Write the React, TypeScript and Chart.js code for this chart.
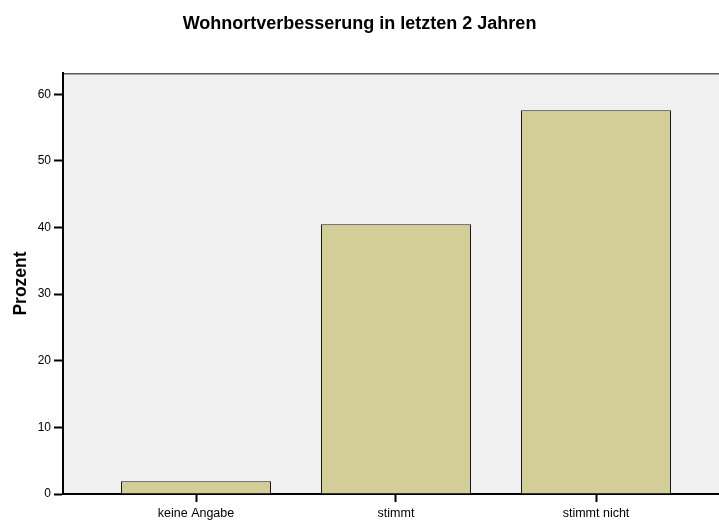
import React, { useEffect, useRef } from "react";
import { Chart, registerables } from "chart.js";

Chart.register(...registerables);

const title = "Wohnortverbesserung in letzten 2 Jahren";
const yAxisTitle = "Prozent";
const categories = ["keine Angabe", "stimmt", "stimmt nicht"];
const percentValues = [1.9, 40.5, 57.6];
const yTickStep = 10;
const yMax = 63.2;
const xMin = -0.665;
const xMax = 2.615;

const FONT = "'Liberation Sans', Arial, Helvetica, sans-serif";

const plotBackground = {
  id: "plotBackground",
  beforeDraw(chart: any) {
    const { ctx, chartArea } = chart;
    if (!chartArea) return;
    ctx.save();
    ctx.fillStyle = "#f0f0f0";
    ctx.fillRect(chartArea.left, chartArea.top, chartArea.right - chartArea.left, chartArea.bottom - chartArea.top);
    ctx.strokeStyle = "#5a5a5a";
    ctx.lineWidth = 1.5;
    ctx.beginPath();
    ctx.moveTo(chartArea.left, chartArea.top + 0.75);
    ctx.lineTo(chartArea.right, chartArea.top + 0.75);
    ctx.stroke();
    ctx.restore();
  },
};

export default function App() {
  const canvasRef = useRef<HTMLCanvasElement | null>(null);

  useEffect(() => {
    document.body.style.margin = "0";
    const canvas = canvasRef.current;
    if (!canvas) return;
    const chart = new Chart(canvas, {
      type: "bar",
      data: {
        datasets: [
          {
            data: categories.map((_, i) => ({ x: i, y: percentValues[i] })),
            backgroundColor: "#d3ce98",
            borderColor: "#1a1a1a",
            borderWidth: 1,
            categoryPercentage: 1,
            barPercentage: 0.75,
          },
        ],
      },
      plugins: [plotBackground],
      options: {
        responsive: false,
        animation: false,
        devicePixelRatio: 1,
        layout: { padding: 0 },
        plugins: {
          legend: { display: false },
          tooltip: { enabled: false },
          title: {
            display: true,
            text: title,
            color: "#000",
            font: { family: FONT, size: 18, weight: "bold" },
            padding: { top: 13, bottom: 38.4 },
          },
        },
        scales: {
          x: {
            type: "linear",
            min: xMin,
            max: xMax,
            offset: false,
            afterFit(scale: any) {
              scale.height = 27;
            },
            border: { display: true, color: "#000", width: 2 },
            grid: {
              display: true,
              offset: false,
              drawOnChartArea: false,
              drawTicks: true,
              tickLength: 8,
              tickColor: "#000",
              tickWidth: 2,
            },
            ticks: {
              stepSize: 1,
              includeBounds: false,
              autoSkip: false,
              maxRotation: 0,
              padding: 4,
              color: "#000",
              font: { family: FONT, size: 12.5 },
              callback: (v: any) => {
                const i = Number(v);
                return Number.isInteger(i) && categories[i] !== undefined ? categories[i] : "";
              },
            },
          },
          y: {
            min: 0,
            max: yMax,
            afterFit(scale: any) {
              scale.width = 63;
            },
            border: { display: true, color: "#000", width: 2 },
            grid: {
              display: true,
              drawOnChartArea: false,
              drawTicks: true,
              tickLength: 9,
              tickColor: "#000",
              tickWidth: 2,
            },
            ticks: {
              stepSize: yTickStep,
              includeBounds: false,
              padding: 3,
              color: "#000",
              font: { family: FONT, size: 12 },
            },
            title: {
              display: true,
              text: yAxisTitle,
              color: "#000",
              font: { family: FONT, size: 17.5, weight: "bold" },
              padding: { top: 10.5, bottom: 0 },
            },
          },
        },
      },
    });
    return () => chart.destroy();
  }, []);

  return (
    <div style={{ width: 719, height: 521 }}>
      <canvas ref={canvasRef} width={719} height={521} style={{ display: "block" }} />
    </div>
  );
}
